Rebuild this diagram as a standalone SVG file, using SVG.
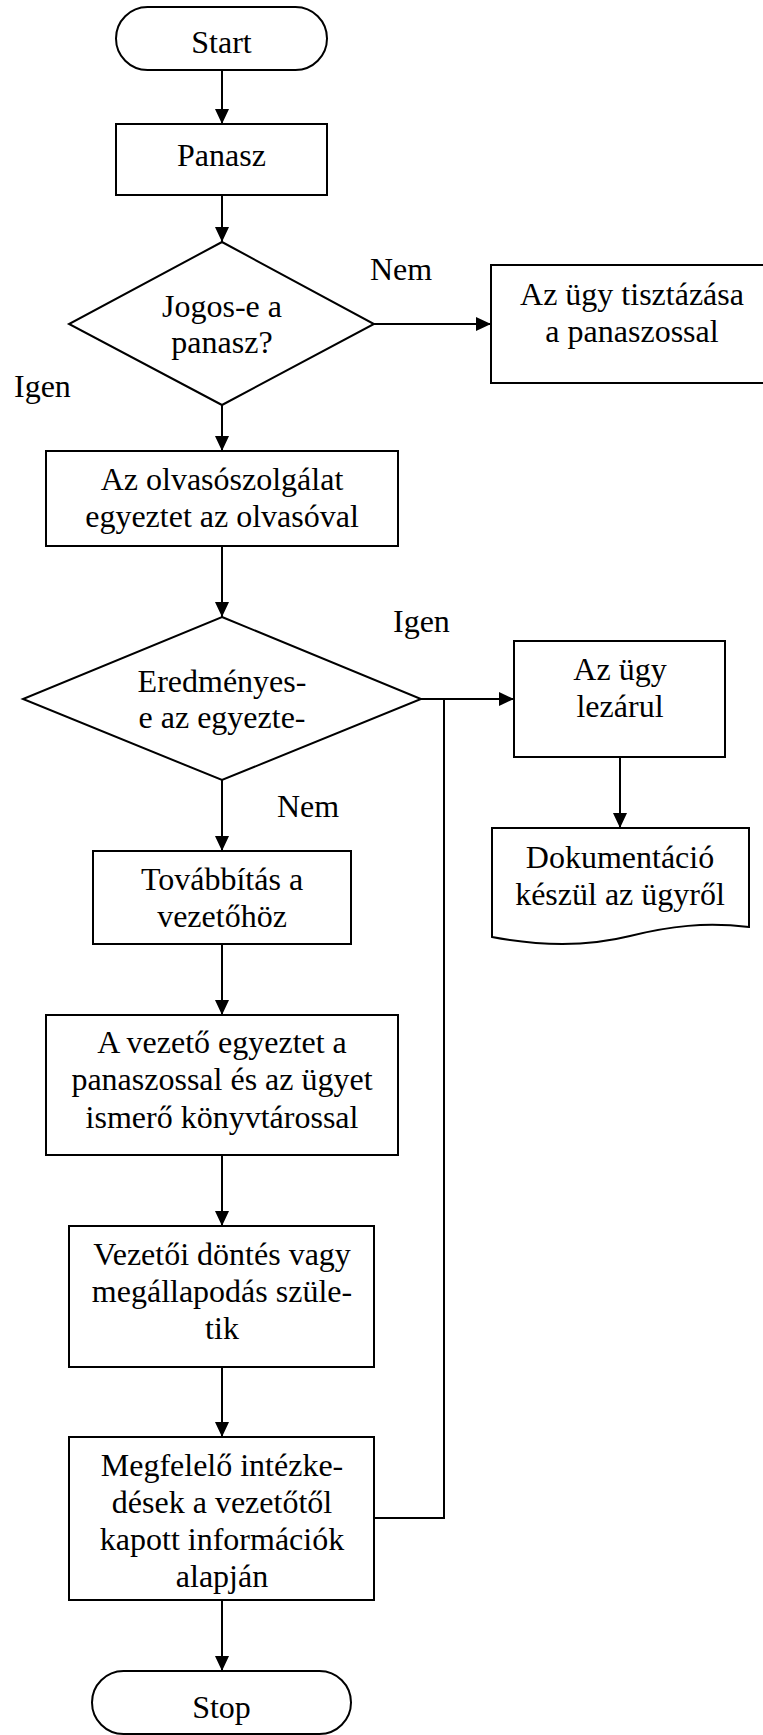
<svg xmlns="http://www.w3.org/2000/svg" width="763" height="1735" viewBox="0 0 763 1735">
  <style>
    .shape { fill: #ffffff; stroke: #000000; stroke-width: 2; }
    .wire { fill: none; stroke: #000000; stroke-width: 2; }
    text { font-family: "Liberation Serif", "Times New Roman", serif; font-size: 32px; fill: #000000; }
    .c { text-anchor: middle; }
  </style>
  <defs>
    <marker id="arrow" markerUnits="userSpaceOnUse" markerWidth="16" markerHeight="14" refX="15" refY="7" orient="auto">
      <path d="M0,0 L15,7 L0,14 Z" fill="#000000"/>
    </marker>
  </defs>

  <rect width="763" height="1735" fill="#ffffff"/>

  <!-- connectors -->
  <g id="connectors">
    <path class="wire" d="M222,70 V124" marker-end="url(#arrow)"/>
    <path class="wire" d="M222,195 V242" marker-end="url(#arrow)"/>
    <path class="wire" d="M374,324 H491" marker-end="url(#arrow)"/>
    <path class="wire" d="M222,405 V451" marker-end="url(#arrow)"/>
    <path class="wire" d="M222,546 V617" marker-end="url(#arrow)"/>
    <path class="wire" d="M421,699 H514" marker-end="url(#arrow)"/>
    <path class="wire" d="M620,757 V828" marker-end="url(#arrow)"/>
    <path class="wire" d="M222,780 V851" marker-end="url(#arrow)"/>
    <path class="wire" d="M222,944 V1015" marker-end="url(#arrow)"/>
    <path class="wire" d="M222,1155 V1226" marker-end="url(#arrow)"/>
    <path class="wire" d="M222,1367 V1437" marker-end="url(#arrow)"/>
    <path class="wire" d="M222,1600 V1671" marker-end="url(#arrow)"/>
    <path class="wire" d="M374,1518 H444 V699"/>
  </g>

  <!-- branch labels -->
  <g id="labels">
    <text x="370" y="280">Nem</text>
    <text x="14" y="397">Igen</text>
    <text x="393" y="632">Igen</text>
    <text x="277" y="817">Nem</text>
  </g>

  <g id="start">
    <rect class="shape" x="116" y="7" width="211" height="63" rx="31.5" ry="31.5"/>
    <text class="c" x="221.5" y="53">Start</text>
  </g>

  <g id="panasz">
    <rect class="shape" x="116" y="124" width="211" height="71"/>
    <text class="c" x="221.5" y="166">Panasz</text>
  </g>

  <g id="jogos">
    <polygon class="shape" points="222,242 374,324 222,405 69,324"/>
    <text class="c" x="222" y="317">Jogos-e a</text>
    <text class="c" x="222" y="353">panasz?</text>
  </g>

  <!-- this box runs past the right edge of the sheet -->
  <g id="tisztazas">
    <rect class="shape" x="491" y="265" width="284" height="118"/>
    <text class="c" x="632" y="305">Az ügy tisztázása</text>
    <text class="c" x="632" y="342">a panaszossal</text>
  </g>

  <g id="olvasoszolgalat">
    <rect class="shape" x="46" y="451" width="352" height="95"/>
    <text class="c" x="222" y="490">Az olvasószolgálat</text>
    <text class="c" x="222" y="527">egyeztet az olvasóval</text>
  </g>

  <g id="eredmenyes">
    <polygon class="shape" points="222,617 421,699 222,780 23,699"/>
    <text class="c" x="222" y="692">Eredményes-</text>
    <text class="c" x="222" y="728">e az egyezte-</text>
  </g>

  <g id="lezarul">
    <rect class="shape" x="514" y="641" width="211" height="116"/>
    <text class="c" x="620" y="680">Az ügy</text>
    <text class="c" x="620" y="717">lezárul</text>
  </g>

  <g id="dokumentacio">
    <path class="shape" d="M492,828 H749 V927 C705,922 670,926 630,936 C590,946 545,947 492,937 Z"/>
    <text class="c" x="620" y="868">Dokumentáció</text>
    <text class="c" x="620" y="905">készül az ügyről</text>
  </g>

  <g id="tovabbitas">
    <rect class="shape" x="93" y="851" width="258" height="93"/>
    <text class="c" x="222" y="890">Továbbítás a</text>
    <text class="c" x="222" y="927">vezetőhöz</text>
  </g>

  <g id="vezeto-egyeztet">
    <rect class="shape" x="46" y="1015" width="352" height="140"/>
    <text class="c" x="222" y="1053">A vezető egyeztet a</text>
    <text class="c" x="222" y="1090">panaszossal és az ügyet</text>
    <text class="c" x="222" y="1128">ismerő könyvtárossal</text>
  </g>

  <g id="vezetoi-dontes">
    <rect class="shape" x="69" y="1226" width="305" height="141"/>
    <text class="c" x="222" y="1265">Vezetői döntés vagy</text>
    <text class="c" x="222" y="1302">megállapodás szüle-</text>
    <text class="c" x="222" y="1339">tik</text>
  </g>

  <g id="intezkedesek">
    <rect class="shape" x="69" y="1437" width="305" height="163"/>
    <text class="c" x="222" y="1476">Megfelelő intézke-</text>
    <text class="c" x="222" y="1513">dések a vezetőtől</text>
    <text class="c" x="222" y="1550">kapott információk</text>
    <text class="c" x="222" y="1587">alapján</text>
  </g>

  <g id="stop">
    <rect class="shape" x="92" y="1671" width="259" height="63" rx="31.5" ry="31.5"/>
    <text class="c" x="221.5" y="1718">Stop</text>
  </g>
</svg>
